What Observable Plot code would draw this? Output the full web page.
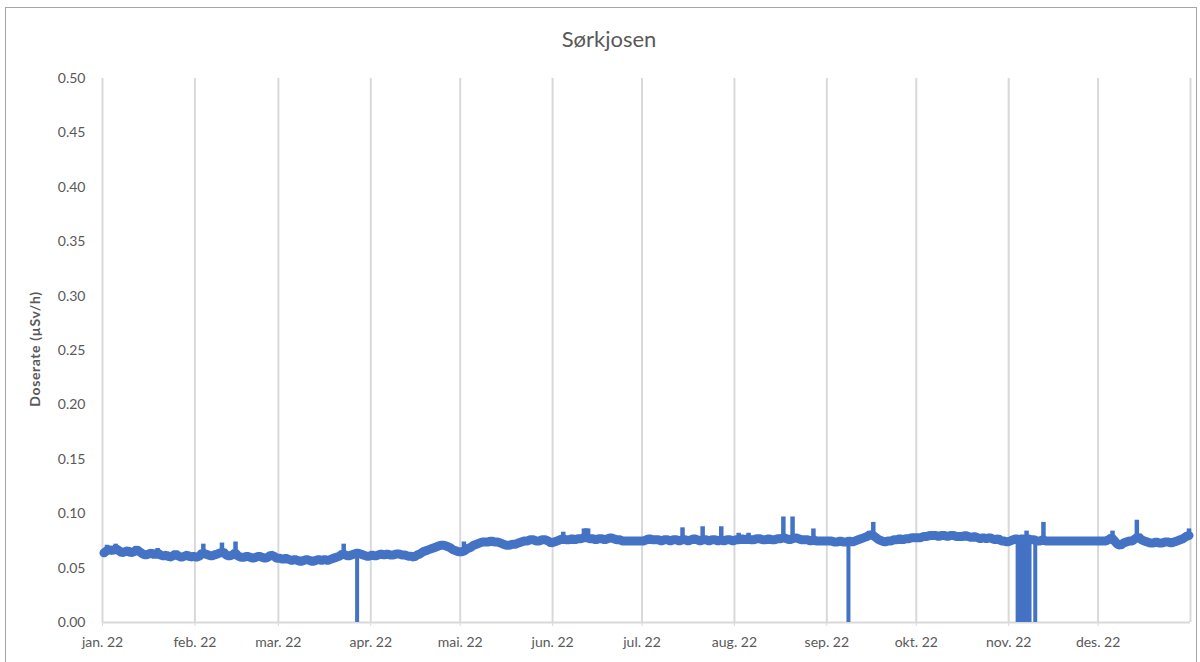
<!DOCTYPE html>
<html>
<head>
<meta charset="utf-8">
<script src="https://cdn.jsdelivr.net/npm/d3@7"></script>
<script src="https://cdn.jsdelivr.net/npm/@observablehq/plot@0.6"></script>
<style>
  html, body { margin: 0; padding: 0; background: #ffffff; overflow: hidden; }
  #wrap { position: relative; width: 1200px; height: 662px; font-family: Lato, "Open Sans", sans-serif; }
  #frame { position: absolute; left: 5px; top: 7px; width: 1192px; height: 680px; border: 1px solid #a6a6a6; box-sizing: border-box; }
  #title { position: absolute; left: 0; width: 1218px; top: 25px; text-align: center; font-size: 22px; color: #595959; }
  #ylab { position: absolute; left: 34px; top: 349px; transform: translate(-50%, -50%) rotate(-90deg); white-space: nowrap; font-size: 14px; letter-spacing: 0.6px; font-weight: bold; color: #595959; }
  #chart { position: absolute; left: 0; top: 0; }
</style>
</head>
<body>
<div id="wrap">
  <div id="frame"></div>
  <div id="chart"></div>
  <div id="title">Sørkjosen</div>
  <div id="ylab">Doserate (µSv/h)</div>
</div>
<script>
// Month tick labels
const tickLabels = ["jan. 22","feb. 22","mar. 22","apr. 22","mai. 22","jun. 22","jul. 22","aug. 22","sep. 22","okt. 22","nov. 22","des. 22"];
const yTicks = [0,0.05,0.10,0.15,0.20,0.25,0.30,0.35,0.40,0.45,0.50];

// Daily dose rate (µSv/h), one array per month
const jan = [0.064,0.066,0.067,0.066,0.068,0.066,0.064,0.065,0.066,0.064,0.065,0.067,0.065,0.063,0.062,0.063,0.064,0.062,0.064,0.062,0.061,0.062,0.060,0.061,0.063,0.061,0.060,0.061,0.062,0.060,0.061];
const feb = [0.060,0.061,0.064,0.063,0.062,0.061,0.062,0.063,0.064,0.065,0.062,0.061,0.062,0.064,0.061,0.060,0.060,0.061,0.060,0.059,0.060,0.061,0.060,0.059,0.060,0.062,0.061,0.059];
const mar = [0.059,0.058,0.059,0.058,0.057,0.058,0.057,0.056,0.057,0.058,0.057,0.056,0.057,0.058,0.057,0.058,0.057,0.058,0.059,0.060,0.061,0.063,0.062,0.061,0.062,0.063,0.064,0.063,0.062,0.061,0.061];
const apr = [0.062,0.061,0.062,0.063,0.062,0.063,0.062,0.062,0.063,0.063,0.062,0.062,0.061,0.061,0.060,0.062,0.063,0.065,0.066,0.067,0.068,0.069,0.070,0.071,0.071,0.070,0.069,0.067,0.066,0.065];
const mai = [0.065,0.066,0.068,0.069,0.071,0.072,0.073,0.074,0.074,0.074,0.075,0.074,0.074,0.073,0.072,0.071,0.071,0.072,0.072,0.073,0.074,0.075,0.075,0.076,0.076,0.075,0.075,0.076,0.076,0.075,0.073];
const jun = [0.074,0.075,0.076,0.077,0.076,0.076,0.077,0.076,0.077,0.077,0.078,0.078,0.077,0.077,0.076,0.077,0.077,0.076,0.077,0.078,0.077,0.076,0.076,0.075,0.075,0.075,0.075,0.075,0.075,0.075];
const jul = [0.075,0.076,0.077,0.076,0.076,0.076,0.075,0.076,0.076,0.075,0.076,0.076,0.075,0.076,0.076,0.075,0.076,0.077,0.076,0.075,0.076,0.076,0.075,0.076,0.076,0.075,0.076,0.075,0.076,0.076,0.075];
const aug = [0.076,0.076,0.077,0.076,0.077,0.076,0.076,0.077,0.077,0.076,0.076,0.077,0.076,0.076,0.077,0.077,0.078,0.077,0.076,0.077,0.078,0.077,0.076,0.076,0.076,0.075,0.076,0.075,0.075,0.075,0.075];
const sep = [0.075,0.075,0.074,0.074,0.075,0.074,0.074,0.075,0.074,0.075,0.076,0.077,0.078,0.079,0.081,0.080,0.078,0.076,0.075,0.074,0.075,0.075,0.076,0.076,0.077,0.076,0.077,0.077,0.078,0.078];
const okt = [0.078,0.078,0.079,0.079,0.080,0.080,0.080,0.079,0.080,0.080,0.079,0.080,0.080,0.079,0.079,0.079,0.080,0.079,0.078,0.079,0.078,0.077,0.078,0.077,0.078,0.077,0.076,0.077,0.075,0.075,0.074];
const nov = [0.075,0.076,0.077,0.076,0.077,0.076,0.077,0.076,0.076,0.075,0.075,0.076,0.075,0.075,0.075,0.075,0.075,0.075,0.075,0.075,0.075,0.075,0.075,0.075,0.075,0.075,0.075,0.075,0.075,0.075];
const des = [0.075,0.075,0.075,0.076,0.078,0.075,0.072,0.071,0.073,0.074,0.075,0.075,0.077,0.079,0.076,0.075,0.074,0.073,0.073,0.074,0.073,0.073,0.074,0.074,0.073,0.074,0.075,0.076,0.077,0.079,0.080];

// Short peaks (time, peak value)
const spikeTimes = ["2022-01-02T12","2022-01-05T10","2022-01-12T06","2022-01-19T12","2022-02-03T20","2022-02-10T02","2022-02-14T15","2022-03-22T22","2022-05-02T06","2022-05-07T18","2022-05-11T00","2022-06-04T14","2022-06-11T12","2022-06-12T06","2022-06-12T22","2022-07-14T14","2022-07-21T08","2022-07-27T14","2022-08-02T10","2022-08-05T18","2022-08-09T18","2022-08-17T10","2022-08-20T12","2022-08-27T12","2022-09-16T14","2022-10-06T14","2022-10-09T00","2022-10-17T12","2022-10-22T12","2022-10-25T22","2022-10-28T14","2022-11-07T00","2022-11-12T16","2022-12-05T20","2022-12-14T00","2022-12-31T12"];
const spikeValues = [0.071,0.072,0.070,0.068,0.072,0.073,0.074,0.072,0.074,0.076,0.078,0.083,0.086,0.086,0.086,0.087,0.088,0.088,0.082,0.082,0.080,0.097,0.097,0.086,0.092,0.083,0.083,0.082,0.081,0.081,0.080,0.084,0.092,0.084,0.094,0.086];

// Outages (readings of 0)
const dropTimes = ["2022-03-27T10","2022-09-08T06","2022-11-04T00","2022-11-04T08","2022-11-04T16","2022-11-05T00","2022-11-05T08","2022-11-05T16","2022-11-06T00","2022-11-06T08","2022-11-06T16","2022-11-07T00","2022-11-07T08","2022-11-07T16","2022-11-08T00","2022-11-09T22"];

const monthly = [jan,feb,mar,apr,mai,jun,jul,aug,sep,okt,nov,des];
const series = monthly.flatMap((arr, m) => arr.map((v, i) => ({date: new Date(Date.UTC(2022, m, i + 1, 12)), value: v})));
const dayValue = d => monthly[d.getUTCMonth()][d.getUTCDate() - 1];
const spikes = spikeTimes.map((t, i) => { const d = new Date(t + ":00:00Z"); return {date: d, value: spikeValues[i], base: dayValue(d)}; });
const drops = dropTimes.map(t => { const d = new Date(t + ":00:00Z"); return {date: d, base: dayValue(d)}; });
const gridDates = d3.range(13).map(i => new Date(Date.UTC(2022, i, 1)));
const tickDates = gridDates.slice(0, 12);

const chart = Plot.plot({
  width: 1200,
  height: 662,
  marginLeft: 102,
  marginRight: 10,
  marginTop: 78,
  marginBottom: 40,
  style: {fontFamily: "Lato, 'Open Sans', sans-serif", fontSize: "14px", color: "#595959", background: "transparent"},
  x: {type: "utc", domain: [new Date(Date.UTC(2022,0,1)), new Date(Date.UTC(2023,0,1))]},
  y: {domain: [0, 0.5]},
  marks: [
    Plot.ruleX(gridDates, {stroke: "#d9d9d9", strokeWidth: 2}),
    Plot.ruleY([0], {stroke: "#d9d9d9", strokeWidth: 2}),
    Plot.axisX(tickDates, {tickSize: 4, stroke: "#d9d9d9", tickPadding: 11, fill: "#595959", label: null,
      tickFormat: d => tickLabels[d.getUTCMonth()], style: {letterSpacing: "1.8px"}}),
    Plot.axisY(yTicks, {tickSize: 0, tickPadding: 17, label: null, tickFormat: d3.format(".2f"), fill: "#595959"}),
    Plot.ruleX(drops, {x: "date", y1: 0, y2: "base", stroke: "#4472C4", strokeWidth: 4}),
    Plot.ruleX(spikes, {x: "date", y1: "base", y2: "value", stroke: "#4472C4", strokeWidth: 4.5}),
    Plot.line(series, {x: "date", y: "value", stroke: "#4472C4", strokeWidth: 9, strokeLinejoin: "miter", curve: "linear"})
  ]
});
document.getElementById("chart").appendChild(chart);
</script>
</body>
</html>
